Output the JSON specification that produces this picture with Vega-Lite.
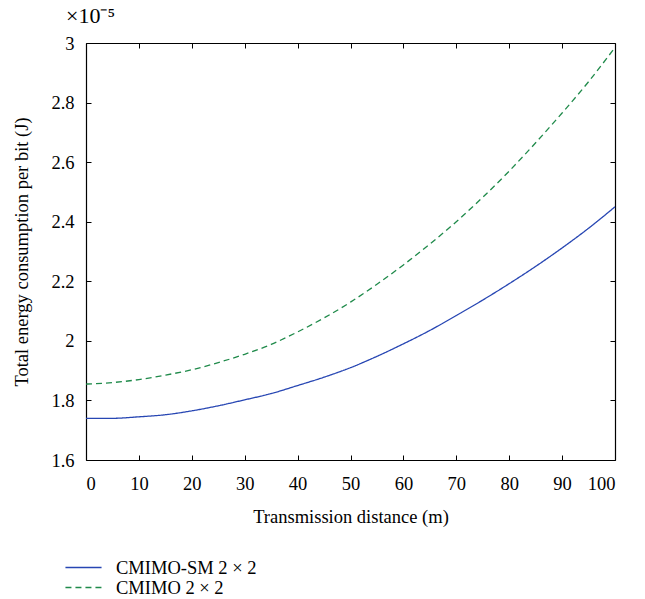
{
  "$schema": "https://vega.github.io/schema/vega-lite/v6.json",
  "width": 529,
  "height": 417,
  "autosize": "none",
  "padding": {"left": 86, "top": 43, "right": 30, "bottom": 139},
  "background": "white",
  "config": {
    "font": "Liberation Serif",
    "view": {"stroke": null},
    "axis": {"grid": false, "domainColor": "black", "tickColor": "black", "labelColor": "black", "titleColor": "black", "labelFont": "Liberation Serif", "titleFont": "Liberation Serif", "labelFontSize": 18.5, "titleFontSize": 18.5, "titleFontWeight": "normal", "tickSize": -5, "domainWidth": 1.2}
  },
  "title": {"text": "×10⁻⁵", "anchor": "start", "frame": "group", "dx": -20, "offset": 6, "fontSize": 22, "fontWeight": "normal", "font": "Liberation Serif", "color": "black"},
  "data": {"values": [
    {"d": 0, "e": 1.740, "s": "CMIMO-SM 2 × 2"},
    {"d": 5, "e": 1.740, "s": "CMIMO-SM 2 × 2"},
    {"d": 10, "e": 1.745, "s": "CMIMO-SM 2 × 2"},
    {"d": 15, "e": 1.752, "s": "CMIMO-SM 2 × 2"},
    {"d": 20, "e": 1.765, "s": "CMIMO-SM 2 × 2"},
    {"d": 25, "e": 1.782, "s": "CMIMO-SM 2 × 2"},
    {"d": 30, "e": 1.802, "s": "CMIMO-SM 2 × 2"},
    {"d": 35, "e": 1.823, "s": "CMIMO-SM 2 × 2"},
    {"d": 40, "e": 1.850, "s": "CMIMO-SM 2 × 2"},
    {"d": 45, "e": 1.878, "s": "CMIMO-SM 2 × 2"},
    {"d": 50, "e": 1.910, "s": "CMIMO-SM 2 × 2"},
    {"d": 55, "e": 1.948, "s": "CMIMO-SM 2 × 2"},
    {"d": 60, "e": 1.990, "s": "CMIMO-SM 2 × 2"},
    {"d": 65, "e": 2.035, "s": "CMIMO-SM 2 × 2"},
    {"d": 70, "e": 2.085, "s": "CMIMO-SM 2 × 2"},
    {"d": 75, "e": 2.137, "s": "CMIMO-SM 2 × 2"},
    {"d": 80, "e": 2.192, "s": "CMIMO-SM 2 × 2"},
    {"d": 85, "e": 2.250, "s": "CMIMO-SM 2 × 2"},
    {"d": 90, "e": 2.312, "s": "CMIMO-SM 2 × 2"},
    {"d": 95, "e": 2.378, "s": "CMIMO-SM 2 × 2"},
    {"d": 100, "e": 2.450, "s": "CMIMO-SM 2 × 2"},
    {"d": 0, "e": 1.855, "s": "CMIMO 2 × 2"},
    {"d": 5, "e": 1.860, "s": "CMIMO 2 × 2"},
    {"d": 10, "e": 1.870, "s": "CMIMO 2 × 2"},
    {"d": 15, "e": 1.885, "s": "CMIMO 2 × 2"},
    {"d": 20, "e": 1.903, "s": "CMIMO 2 × 2"},
    {"d": 25, "e": 1.927, "s": "CMIMO 2 × 2"},
    {"d": 30, "e": 1.955, "s": "CMIMO 2 × 2"},
    {"d": 35, "e": 1.988, "s": "CMIMO 2 × 2"},
    {"d": 40, "e": 2.030, "s": "CMIMO 2 × 2"},
    {"d": 45, "e": 2.077, "s": "CMIMO 2 × 2"},
    {"d": 50, "e": 2.130, "s": "CMIMO 2 × 2"},
    {"d": 55, "e": 2.190, "s": "CMIMO 2 × 2"},
    {"d": 60, "e": 2.255, "s": "CMIMO 2 × 2"},
    {"d": 65, "e": 2.325, "s": "CMIMO 2 × 2"},
    {"d": 70, "e": 2.400, "s": "CMIMO 2 × 2"},
    {"d": 75, "e": 2.482, "s": "CMIMO 2 × 2"},
    {"d": 80, "e": 2.570, "s": "CMIMO 2 × 2"},
    {"d": 85, "e": 2.665, "s": "CMIMO 2 × 2"},
    {"d": 90, "e": 2.765, "s": "CMIMO 2 × 2"},
    {"d": 95, "e": 2.870, "s": "CMIMO 2 × 2"},
    {"d": 100, "e": 2.985, "s": "CMIMO 2 × 2"}
  ]},
  "layer": [
    {
      "mark": {"type": "line", "strokeWidth": 1.3, "interpolate": "monotone"},
      "encoding": {
        "x": {"field": "d", "type": "quantitative", "scale": {"domain": [0, 100], "nice": false},
          "axis": {"orient": "bottom", "title": "Transmission distance (m)", "values": [0,10,20,30,40,50,60,70,80,90,100], "labelPadding": 19, "titlePadding": 15}},
        "y": {"field": "e", "type": "quantitative", "scale": {"domain": [1.6, 3.0], "nice": false, "zero": false},
          "axis": {"orient": "left", "title": "Total energy consumption per bit (J)", "values": [1.6,1.8,2.0,2.2,2.4,2.6,2.8,3.0], "format": ".1~f", "labelPadding": 17, "titlePadding": 19}},
        "color": {"field": "s", "type": "nominal", "sort": ["CMIMO-SM 2 × 2", "CMIMO 2 × 2"],
          "scale": {"domain": ["CMIMO-SM 2 × 2", "CMIMO 2 × 2"], "range": ["#2746b3", "#1f8a4a"]},
          "legend": {"title": null, "orient": "none", "legendX": -13, "legendY": 514, "padding": 0, "symbolType": "M-1.9,0H1.9", "symbolSize": 361, "symbolStrokeWidth": 1.3, "labelFont": "Liberation Serif", "labelFontSize": 18.5, "labelColor": "black", "labelOffset": 22, "rowPadding": -2}},
        "strokeDash": {"field": "s", "type": "nominal", "sort": ["CMIMO-SM 2 × 2", "CMIMO 2 × 2"],
          "scale": {"domain": ["CMIMO-SM 2 × 2", "CMIMO 2 × 2"], "range": [[1, 0], [6, 4]]},
          "legend": {"title": null, "orient": "none", "legendX": -13, "legendY": 514, "padding": 0, "symbolType": "M-1.9,0H1.9", "symbolSize": 361, "symbolStrokeWidth": 1.3, "labelFont": "Liberation Serif", "labelFontSize": 18.5, "labelColor": "black", "labelOffset": 22, "rowPadding": -2}}
      }
    },
    {
      "mark": {"type": "line", "strokeOpacity": 0},
      "encoding": {
        "x": {"field": "d", "type": "quantitative", "axis": {"orient": "top", "title": null, "labels": false, "values": [0,10,20,30,40,50,60,70,80,90,100]}},
        "y": {"field": "e", "type": "quantitative", "axis": {"orient": "right", "title": null, "labels": false, "values": [1.6,1.8,2.0,2.2,2.4,2.6,2.8,3.0]}},
        "detail": {"field": "s", "type": "nominal"}
      }
    }
  ],
  "resolve": {"axis": {"x": "independent", "y": "independent"}}
}
